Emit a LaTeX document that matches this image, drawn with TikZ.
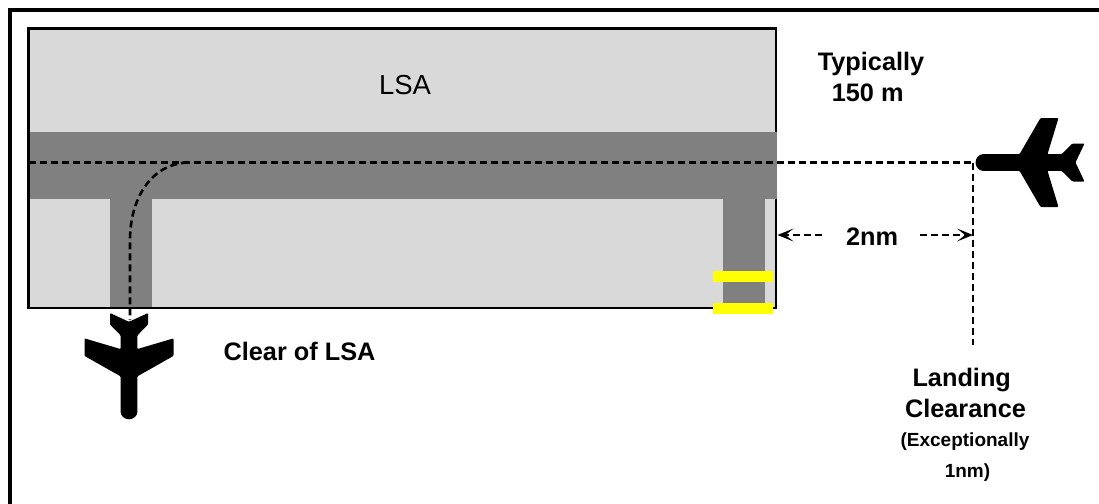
\documentclass[tikz,border=0pt]{standalone}
\usepackage{fontspec}
\setmainfont{Liberation Sans}
\usetikzlibrary{arrows.meta}
\tikzset{
  lbl/.style={font=\fontsize{25.3}{25.3}\selectfont\bfseries,anchor=base,inner sep=0pt},
  smalllbl/.style={font=\fontsize{19}{19}\selectfont\bfseries,anchor=base,inner sep=0pt},
  plainlbl/.style={font=\fontsize{27.5}{27.5}\selectfont,anchor=base,inner sep=0pt},
  dashline/.style={line width=2.6pt,dash pattern=on 7pt off 4pt},
  dimarrow/.style={dashline,-{Stealth[length=16pt,width=13pt,inset=8pt,line width=0pt]}},
  plane/.pic={
    \fill[rounded corners=1pt] (8.3,8.3) arc[start angle=90,end angle=270,radius=8.3]
      -- (44,-8.3) -- (65,-44.5) -- (83,-44.5) -- (72,-8.3) -- (86,-8.3) -- (97,-19) -- (109,-19)
      -- (100,0) -- (109,19) -- (97,19) -- (86,8.3) -- (72,8.3) -- (83,44.5) -- (65,44.5) -- (44,8.3) -- cycle;
  }
}
\definecolor{lsagrey}{RGB}{217,217,217}
\definecolor{rwgrey}{RGB}{128,128,128}
\definecolor{baryellow}{RGB}{255,255,0}
\begin{document}
\begin{tikzpicture}[x=1pt,y=-1pt]
\useasboundingbox (0,0) rectangle (1099,503);
% frame
\draw[line width=4pt,line cap=rect] (10,503) -- (10,10) -- (1099,10);
% LSA
\draw[line width=2.6pt,fill=lsagrey] (28.5,28.5) rectangle (776,308);
\fill[rwgrey] (30,132) rectangle (776.5,199);
\fill[rwgrey] (110,199) rectangle (152,307);
\fill[rwgrey] (723,199) rectangle (765,307);
\fill[baryellow] (713,271) rectangle (772.5,281.5);
\fill[baryellow] (713,303) rectangle (772.5,313.5);
% planes
\pic at (975.5,162.5) {plane};
\pic[rotate=90,xscale=0.975] at (129,419.3) {plane};
% coordinates
\coordinate (rwstart) at (29,162.5);
\coordinate (clr) at (973,162.5);
\coordinate (clrend) at (973,345);
\coordinate (turn) at (188,162.5);
\coordinate (twy) at (130,240);
\coordinate (exit) at (130,320);
\coordinate (lsaedge) at (777.5,235);
\coordinate (a1) at (822,235);
\coordinate (a2) at (920,235);
\coordinate (clrline) at (973,235);
% tracks
\draw[dashline] (rwstart) -- (clr);
\draw[dashline] (clr) -- (clrend);
\draw[dashline] (turn) .. controls (150,164) and (130,200) .. (twy) -- (exit);
\draw[dimarrow] (a1) -- (lsaedge);
\draw[dimarrow] (a2) -- (clrline);
% labels
\node[plainlbl] (lsa) at (405,94) {LSA};
\node[lbl] (typ) at (871,70.7) {Typically};
\node[lbl] (m150) at (867.7,101) {150 m};
\node[lbl] (nm2) at (872,245.7) {2nm};
\node[lbl] (clear) at (299.5,360) {Clear of LSA};
\node[lbl] (land) at (961.7,386.7) {Landing};
\node[lbl] (clearance) at (965.5,417) {Clearance};
\node[smalllbl] (exc) at (965,446.7) {(Exceptionally};
\node[smalllbl] (onenm) at (967.5,477) {1nm)};
\end{tikzpicture}
\end{document}
